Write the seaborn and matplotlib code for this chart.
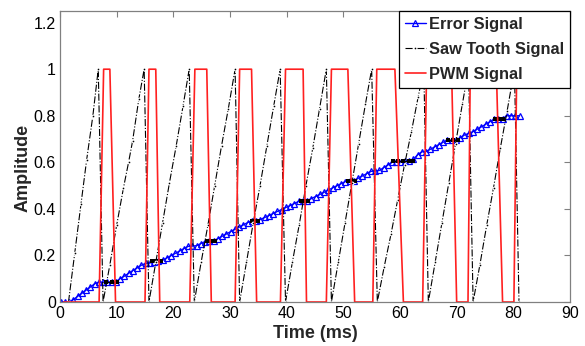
import numpy as np
import pandas as pd
import matplotlib
matplotlib.use("Agg")
import matplotlib.pyplot as plt
import seaborn as sns

# ---------------- data ----------------
err_time = [round(0.1 + 0.75 * k, 2) for k in range(109)]  # sample clock (ms)
err_value = [0, 0, 0, 0.010, 0.024, 0.037, 0.051, 0.064, 0.078, 0.085,
             0.085, 0.086, 0.086, 0.087, 0.100, 0.111, 0.123, 0.135, 0.146, 0.158,
             0.166, 0.168, 0.171, 0.174, 0.179, 0.189, 0.199, 0.209, 0.219, 0.229,
             0.239, 0.240, 0.242, 0.251, 0.259, 0.262, 0.262, 0.272, 0.282, 0.292,
             0.302, 0.312, 0.321, 0.331, 0.341, 0.348, 0.348, 0.354, 0.363, 0.371,
             0.380, 0.389, 0.397, 0.406, 0.414, 0.423, 0.432, 0.435, 0.435, 0.444,
             0.453, 0.462, 0.471, 0.481, 0.490, 0.499, 0.508, 0.517, 0.520, 0.521,
             0.531, 0.541, 0.551, 0.561, 0.563, 0.565, 0.577, 0.588, 0.600, 0.602,
             0.603, 0.605, 0.606, 0.613, 0.632, 0.645, 0.646, 0.656, 0.666, 0.676,
             0.686, 0.695, 0.695, 0.695, 0.705, 0.717, 0.724, 0.731, 0.742, 0.752,
             0.763, 0.774, 0.784, 0.784, 0.787, 0.800, 0.800, 0.800, 0.800]

saw_time = [1.5, 2.6, 3.7, 4.7, 5.8, 6.75,
            7.6, 8.8, 10.0, 11.2, 12.1, 12.8, 13.9, 14.85,
            15.7, 16.9, 18.1, 19.3, 20.5, 21.7, 22.8,
            23.7, 24.9, 26.1, 27.3, 28.5, 29.7, 30.9,
            31.7, 32.9, 34.1, 35.3, 36.5, 37.7, 38.85,
            39.8, 41.0, 42.2, 43.4, 44.6, 45.8, 47.0,
            47.9, 49.1, 50.3, 51.5, 52.7, 53.9, 55.0,
            56.0, 57.2, 58.4, 59.6, 60.8, 62.0, 63.2, 64.2,
            65.0, 66.2, 67.4, 68.6, 69.8, 71.0, 72.1,
            72.9, 74.1, 75.3, 76.5, 77.7, 78.9, 80.2,
            81.0]
saw_value = [0, 0.21, 0.42, 0.61, 0.80, 1.0,
             0, 0.16, 0.33, 0.49, 0.60, 0.69, 0.87, 1.0,
             0, 0.17, 0.34, 0.51, 0.67, 0.84, 1.0,
             0, 0.17, 0.33, 0.50, 0.67, 0.83, 1.0,
             0, 0.17, 0.34, 0.50, 0.67, 0.84, 1.0,
             0, 0.17, 0.33, 0.50, 0.66, 0.83, 1.0,
             0, 0.17, 0.34, 0.51, 0.68, 0.85, 1.0,
             0, 0.15, 0.29, 0.44, 0.59, 0.73, 0.88, 1.0,
             0, 0.17, 0.34, 0.51, 0.68, 0.85, 1.0,
             0, 0.16, 0.33, 0.49, 0.66, 0.82, 1.0,
             0]

# held (sampled) parts of the comparison, drawn as black dotted segments
hold_time = [8.2, 9.1, 10.0, 16.2, 17.0, 17.9, 25.9, 26.6, 27.3,
             33.8, 34.4, 35.0, 42.6, 43.2, 43.8, 50.8, 51.4, 52.0,
             58.8, 59.7, 60.6, 61.5, 62.3, 68.5, 69.3, 70.2, 76.7, 77.4, 78.2]
hold_value = [0.087, 0.087, 0.087, 0.177, 0.177, 0.177, 0.262, 0.262, 0.262,
              0.348, 0.348, 0.348, 0.435, 0.435, 0.435, 0.520, 0.520, 0.520,
              0.605, 0.605, 0.605, 0.605, 0.605, 0.695, 0.695, 0.695, 0.784, 0.784, 0.784]
hold_segment = [0, 0, 0, 1, 1, 1, 2, 2, 2, 3, 3, 3, 4, 4, 4, 5, 5, 5,
                6, 6, 6, 6, 6, 7, 7, 7, 8, 8, 8]

pwm_time = [0.6, 6.9, 7.7, 8.8, 9.8, 15.0, 15.7, 16.9, 17.6, 22.9, 23.8, 25.9, 26.7,
            30.9, 31.7, 33.8, 34.7, 38.9, 39.8, 42.9, 43.5, 47.0, 47.9, 50.8, 52.0,
            55.2, 55.9, 59.1, 60.6, 64.0, 64.7, 69.1, 70.0, 72.0, 72.4, 77.0, 78.1,
            80.1, 80.6, 81.0]
pwm_value = [0, 0, 1, 1, 0, 0, 1, 1, 0, 0, 1, 1, 0,
             0, 1, 1, 0, 0, 1, 1, 0, 0, 1, 1, 0,
             0, 1, 1, 0, 0, 1, 1, 0, 0, 1, 1, 0,
             0, 1, 1]

series_labels = ["Error Signal", "Saw Tooth Signal", "PWM Signal"]
x_ticks = [0, 10, 20, 30, 40, 50, 60, 70, 80, 90]
y_ticks = [0, 0.2, 0.4, 0.6, 0.8, 1.0, 1.2]
y_tick_labels = ["0", "0.2", "0.4", "0.6", "0.8", "1", "1.2"]

# ---------------- plotting ----------------
sns.set_style("white")
plt.rcParams["font.family"] = ["Liberation Sans", "DejaVu Sans"]

fig = plt.figure(figsize=(5.85, 3.46), dpi=100)
ax = fig.add_axes([60 / 585, 1 - 302 / 346, 510 / 585, 291 / 346])

err_df = pd.DataFrame({"t": err_time, "v": err_value})
saw_df = pd.DataFrame({"t": saw_time, "v": saw_value})
hold_df = pd.DataFrame({"t": hold_time, "v": hold_value, "seg": hold_segment})
pwm_df = pd.DataFrame({"t": pwm_time, "v": pwm_value})

sns.lineplot(data=err_df, x="t", y="v", ax=ax, sort=False, estimator=None,
             color="blue", lw=1.0, marker="^", markersize=5,
             markerfacecolor="none", markeredgecolor="blue", markeredgewidth=0.9,
             label=series_labels[0])
sns.lineplot(data=hold_df, x="t", y="v", units="seg", ax=ax, sort=False,
             estimator=None, color="black", lw=1.0, marker="s", markersize=2.4,
             markeredgewidth=0, legend=False)
sns.lineplot(data=saw_df, x="t", y="v", ax=ax, sort=False, estimator=None,
             color="black", lw=0.8, linestyle="-.", marker=".", markersize=4,
             label=series_labels[1])
sns.lineplot(data=pwm_df, x="t", y="v", ax=ax, sort=False, estimator=None,
             color="#ff2020", lw=1.2, label=series_labels[2])

ax.set_xlim(0, 90)
ax.set_ylim(0, 1.25)
ax.set_xticks(x_ticks)
ax.set_yticks(y_ticks)
ax.set_yticklabels(y_tick_labels)
ax.tick_params(direction="in", top=True, right=True, length=4, width=0.8,
               color="#808080", labelsize=11.5, pad=3, labelcolor="black")
for s in ax.spines.values():
    s.set_color("#808080")
    s.set_linewidth(0.9)

ax.set_xlabel("Time (ms)", fontsize=13, fontweight="bold", labelpad=3)
ax.set_ylabel("Amplitude", fontsize=13, fontweight="bold", labelpad=1)
ax.yaxis.set_label_coords(-0.055, 0.46)

handles, labels = ax.get_legend_handles_labels()
leg = ax.legend(handles, labels, loc="upper right", borderaxespad=0,
                fancybox=False, framealpha=1, edgecolor="black",
                prop={"weight": "bold", "size": 11.8}, handlelength=1.3,
                handletextpad=0.2, labelspacing=0.62, borderpad=0.35)
leg.get_frame().set_linewidth(0.9)

fig.savefig("out.png", dpi=100)
